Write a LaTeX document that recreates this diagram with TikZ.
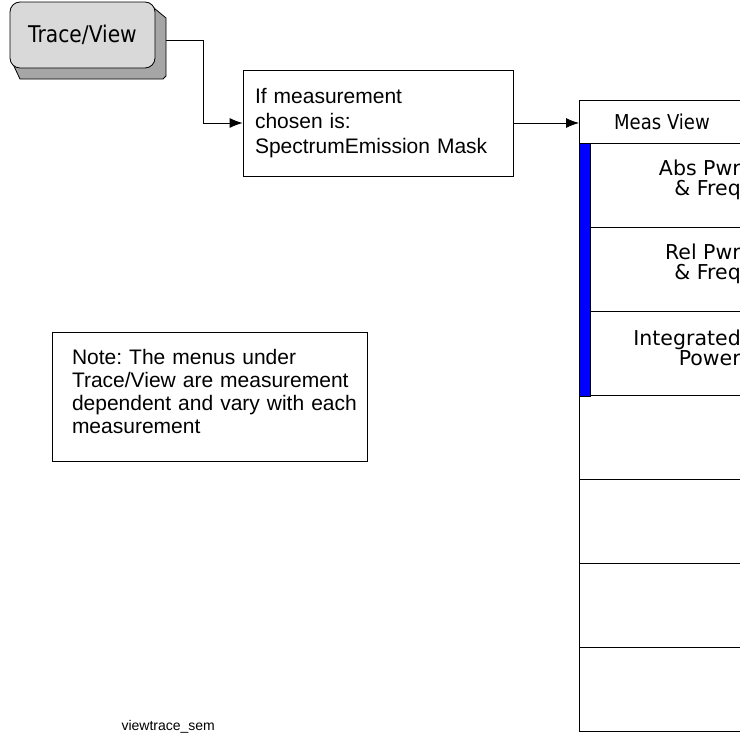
\documentclass[tikz,border=0pt]{standalone}
\usepackage{fontspec}
\setmainfont{Liberation Sans}
\newfontfamily\hpfont[FakeStretch=0.88]{DejaVu Sans}
\newfontfamily\hpwide{DejaVu Sans}
\usetikzlibrary{arrows.meta,positioning,calc}
\frenchspacing

\begin{document}
\begin{tikzpicture}[x=1pt, y=-1pt, >={Latex[length=13pt,width=10pt]},
  box/.style={draw, line width=0.8pt, align=left, inner ysep=0pt, font=\fontsize{21}{25}\selectfont},
  row/.style={draw, line width=1.3pt, minimum width=181pt, minimum height=84pt, anchor=north west, inner sep=0pt},
  lbl/.style={font=\hpwide\fontsize{20.5}{20}\selectfont, align=right, anchor=east}]
\clip (0,0) rectangle (740,739);
% hard key with its shadow
\draw[fill=gray!70, line width=0.8pt] (148,3) -- (166,18) -- (166,76) -- (163,79) -- (20,79) -- (12,62) -- cycle;
\node[draw, line width=0.8pt, fill=gray!30, rounded corners=10pt, minimum width=145pt, minimum height=66pt,
  font=\hpfont\fontsize{23}{23}\selectfont] (key) at (82.5,35) {Trace/View};
\coordinate (keyout) at (166,40);
\node[box, text width=246pt, inner xsep=12pt, minimum width=270pt, minimum height=106pt] (cond) at (378,123)
  {If measurement\\chosen is:\\SpectrumEmission Mask};
\draw[line width=0.8pt, ->] (keyout) -- ++(37,0) |- (cond.west);
% menu
\node[row, minimum height=43pt] (mv) at (579,100) {};
\node[font=\hpfont\fontsize{20.5}{20}\selectfont] at (662,122) {Meas View};
\foreach \i in {1,...,7} \node[row] (r\i) at (579,{143+84*(\i-1)}) {};
\draw[line width=0.6pt, fill=blue] (r1.north west) rectangle ($(r3.south west)+(11,0)$);
\node[lbl] at ($(r1.east)+(-17,-6)$) {Abs Pwr\\\& Freq};
\node[lbl] at ($(r2.east)+(-17,-6)$) {Rel Pwr\\\& Freq};
\node[lbl] at ($(r3.east)+(-17,-6)$) {Integrated\\Power};
\draw[line width=0.8pt, ->] (cond.east) -- (cond.east -| mv.west);
% note
\node[box, text width=305pt, inner xsep=5pt, minimum width=315pt, minimum height=129pt,
  font=\fontsize{21}{23}\selectfont] (note) at (209.5,396.5)
  {\hspace*{15pt}Note: The menus under\\\hspace*{15pt}Trace/View are measurement\\\hspace*{15pt}dependent and vary with each\\\hspace*{15pt}measurement\\[-13pt]\mbox{}};
\node[anchor=west, font=\fontsize{14}{14}\selectfont] (fig) at (118,727) {viewtrace\_sem};
\end{tikzpicture}
\end{document}
